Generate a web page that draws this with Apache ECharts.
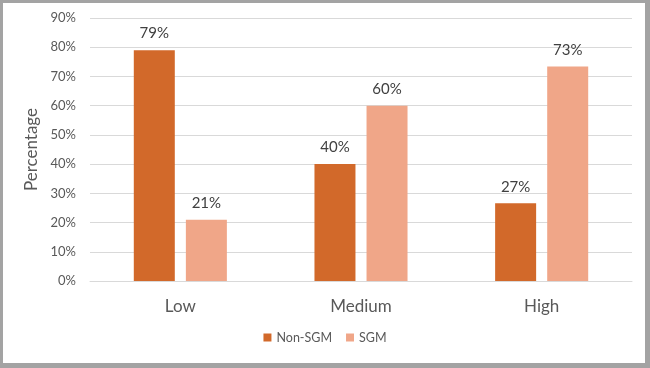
<!DOCTYPE html>
<html><head><meta charset="utf-8">
<script src="https://cdn.jsdelivr.net/npm/echarts@6/dist/echarts.min.js"></script>
<style>html,body{margin:0;padding:0;background:#fff}#c{width:650px;height:368px}</style>
</head><body><div id="c"></div>
<script>
const categories = ['Low', 'Medium', 'High'];
const nonSGM = [79, 40, 26.6];
const sgm = [21, 60, 73.4];
const yTicks = [0, 10, 20, 30, 40, 50, 60, 70, 80, 90];

const FONT = 'Lato';
const TXT = '#595959';
const chart = echarts.init(document.getElementById('c'), null, {renderer: 'canvas'});
const labelCfg = {
  show: true, position: 'top', distance: 9, color: '#404040', fontSize: 15, fontFamily: FONT,
  formatter: p => Math.round(p.value) + '%'
};
chart.setOption({
  animation: false,
  backgroundColor: '#fff',
  graphic: [
    {type: 'rect', z: -10, shape: {x: 0, y: 0, width: 650, height: 368}, style: {fill: '#a3a3a3'}, silent: true},
    {type: 'rect', z: -9, shape: {x: 3, y: 3, width: 642, height: 360}, style: {fill: '#ffffff'}, silent: true}
  ],
  grid: {left: 90, right: 18, top: 18, bottom: 87, containLabel: false},
  legend: {
    data: ['Non-SGM', 'SGM'], bottom: 19, left: 'center', icon: 'rect', itemWidth: 8, itemHeight: 8, itemGap: 14,
    textStyle: {color: TXT, fontSize: 12.5, fontFamily: FONT}
  },
  xAxis: {
    type: 'category', data: categories,
    axisLine: {show: true, lineStyle: {color: '#d9d9d9'}},
    axisTick: {show: false},
    axisLabel: {color: TXT, fontSize: 17, fontFamily: FONT, margin: 17}
  },
  yAxis: {
    type: 'value', min: 0, max: 90, interval: 10,
    name: 'Percentage', nameLocation: 'middle', nameGap: 47, nameRotate: 90,
    nameTextStyle: {color: TXT, fontSize: 17, fontFamily: FONT},
    axisLine: {show: false}, axisTick: {show: false},
    splitLine: {lineStyle: {color: '#d9d9d9'}},
    axisLabel: {color: TXT, fontSize: 13, fontFamily: FONT, margin: 14,
      formatter: v => yTicks.includes(v) ? v + '%' : ''}
  },
  series: [
    {name: 'Non-SGM', type: 'bar', data: nonSGM, barWidth: 41, barGap: '27%', itemStyle: {color: '#D2692A'}, label: labelCfg},
    {name: 'SGM', type: 'bar', data: sgm, barWidth: 41, itemStyle: {color: '#F0A688'}, label: labelCfg}
  ]
});
</script></body></html>
